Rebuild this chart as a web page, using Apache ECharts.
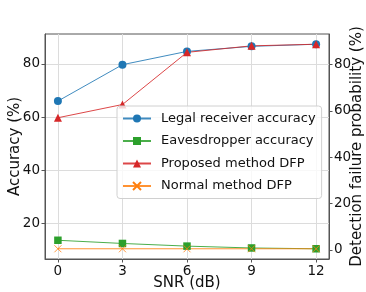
<!DOCTYPE html>
<html>
<head>
<meta charset="utf-8">
<script src="https://cdn.jsdelivr.net/npm/echarts@6/dist/echarts.min.js"></script>
<style>html,body{margin:0;padding:0;background:#fff}#c{width:366px;height:292px}</style>
</head>
<body>
<div id="c"></div>
<script>
// Data
const snr = [0, 3, 6, 9, 12];
const xTicks = [0, 3, 6, 9, 12];
const leftTicks = [20, 40, 60, 80];
const rightTicks = [0, 20, 40, 60, 80];
const legalAcc = [66.0, 79.7, 84.7, 86.6, 87.4];
const eavesAcc = [13.6, 12.4, 11.4, 10.7, 10.4];
const proposedDFP = [57.0, 62.7, 85.2, 88.0, 88.7];
const normalDFP = [0.5, 0.5, 0.5, 0.5, 0.5];
const seriesNames = ['Legal receiver accuracy', 'Eavesdropper accuracy', 'Proposed method DFP', 'Normal method DFP'];

const pairs = (xs, ys) => xs.map((x, i) => [x, ys[i]]);
const FONT = 'DejaVu Sans';
const axisColor = '#555';
const gridColor = '#dcdcdc';

const chart = echarts.init(document.getElementById('c'), null, {renderer: 'canvas'});
const common = (name, data, color, symbol, size, yIdx, extra) => Object.assign({
  name, type: 'line', data, yAxisIndex: yIdx, symbol, symbolSize: size,
  lineStyle: {color, width: 1, opacity: 0.85},
  itemStyle: {color, opacity: 1},
  emphasis: {disabled: true}, animation: false, z: 3
}, extra || {});

chart.setOption({
  animation: false,
  textStyle: {fontFamily: FONT},
  grid: {left: 45, right: 37, top: 34, bottom: 33, containLabel: false, outerBoundsMode: 'none',
    show: true, borderColor: axisColor, borderWidth: 1, backgroundColor: 'transparent'},
  legend: {
    orient: 'vertical', left: 117, top: 106,
    padding: [6, 6, 6, 5], itemGap: 9.5, itemWidth: 28, itemHeight: 10,
    backgroundColor: 'rgba(255,255,255,0.8)', borderColor: '#d0d0d0', borderWidth: 1, borderRadius: 3,
    textStyle: {fontFamily: FONT, fontSize: 13, color: '#111', padding: [0, 0, 0, 5]},
    data: seriesNames
  },
  xAxis: {
    type: 'value', min: -0.6, max: 12.6,
    name: 'SNR (dB)', nameLocation: 'middle', nameGap: 17, nameMoveOverlap: false,
    nameTextStyle: {fontFamily: FONT, fontSize: 15, color: '#111', verticalAlign: 'top'},
    axisLine: {show: true, onZero: false, lineStyle: {color: axisColor}},
    axisTick: {show: true, length: 3.5, customValues: xTicks, lineStyle: {color: axisColor}},
    axisLabel: {customValues: xTicks, margin: 5, fontFamily: FONT, fontSize: 13.5, color: '#111'},
    splitLine: {show: true, lineStyle: {color: gridColor, width: 1}}
  },
  yAxis: [{
    type: 'value', min: 6.55, max: 91.25, position: 'left',
    name: 'Accuracy (%)', nameLocation: 'middle', nameGap: 22, nameMoveOverlap: false,
    nameTextStyle: {fontFamily: FONT, fontSize: 15, color: '#111'},
    axisLine: {show: true, onZero: false, lineStyle: {color: axisColor}},
    axisTick: {show: true, length: 3.5, customValues: leftTicks, lineStyle: {color: axisColor}},
    axisLabel: {customValues: leftTicks, margin: 5, fontFamily: FONT, fontSize: 13.5, color: '#111'},
    splitLine: {show: true, lineStyle: {color: gridColor, width: 1}}
  }, {
    type: 'value', min: -3.91, max: 93.11, position: 'right',
    name: 'Detection failure probability (%)', nameLocation: 'middle', nameGap: 21, nameMoveOverlap: false,
    nameTextStyle: {fontFamily: FONT, fontSize: 15, color: '#111'},
    axisLine: {show: true, onZero: false, lineStyle: {color: axisColor}},
    axisTick: {show: true, length: 3.5, customValues: rightTicks, lineStyle: {color: axisColor}},
    axisLabel: {customValues: rightTicks, margin: 5, fontFamily: FONT, fontSize: 13.5, color: '#111'},
    splitLine: {show: false}
  }],
  series: [
    common(seriesNames[0], pairs(snr, legalAcc), '#1f77b4', 'circle', 8, 0),
    common(seriesNames[1], pairs(snr, eavesAcc), '#2ca02c', 'rect', 7.5, 0),
    common(seriesNames[2], pairs(snr, proposedDFP), '#d62728', 'triangle', 8, 1),
    common(seriesNames[3], pairs(snr, normalDFP), '#ff7f0e', 'path://M0,0L10,10M10,0L0,10', 7, 1,
      {itemStyle: {color: 'none', borderColor: '#ff7f0e', borderWidth: 0.8}})
  ]
});
</script>
</body>
</html>
